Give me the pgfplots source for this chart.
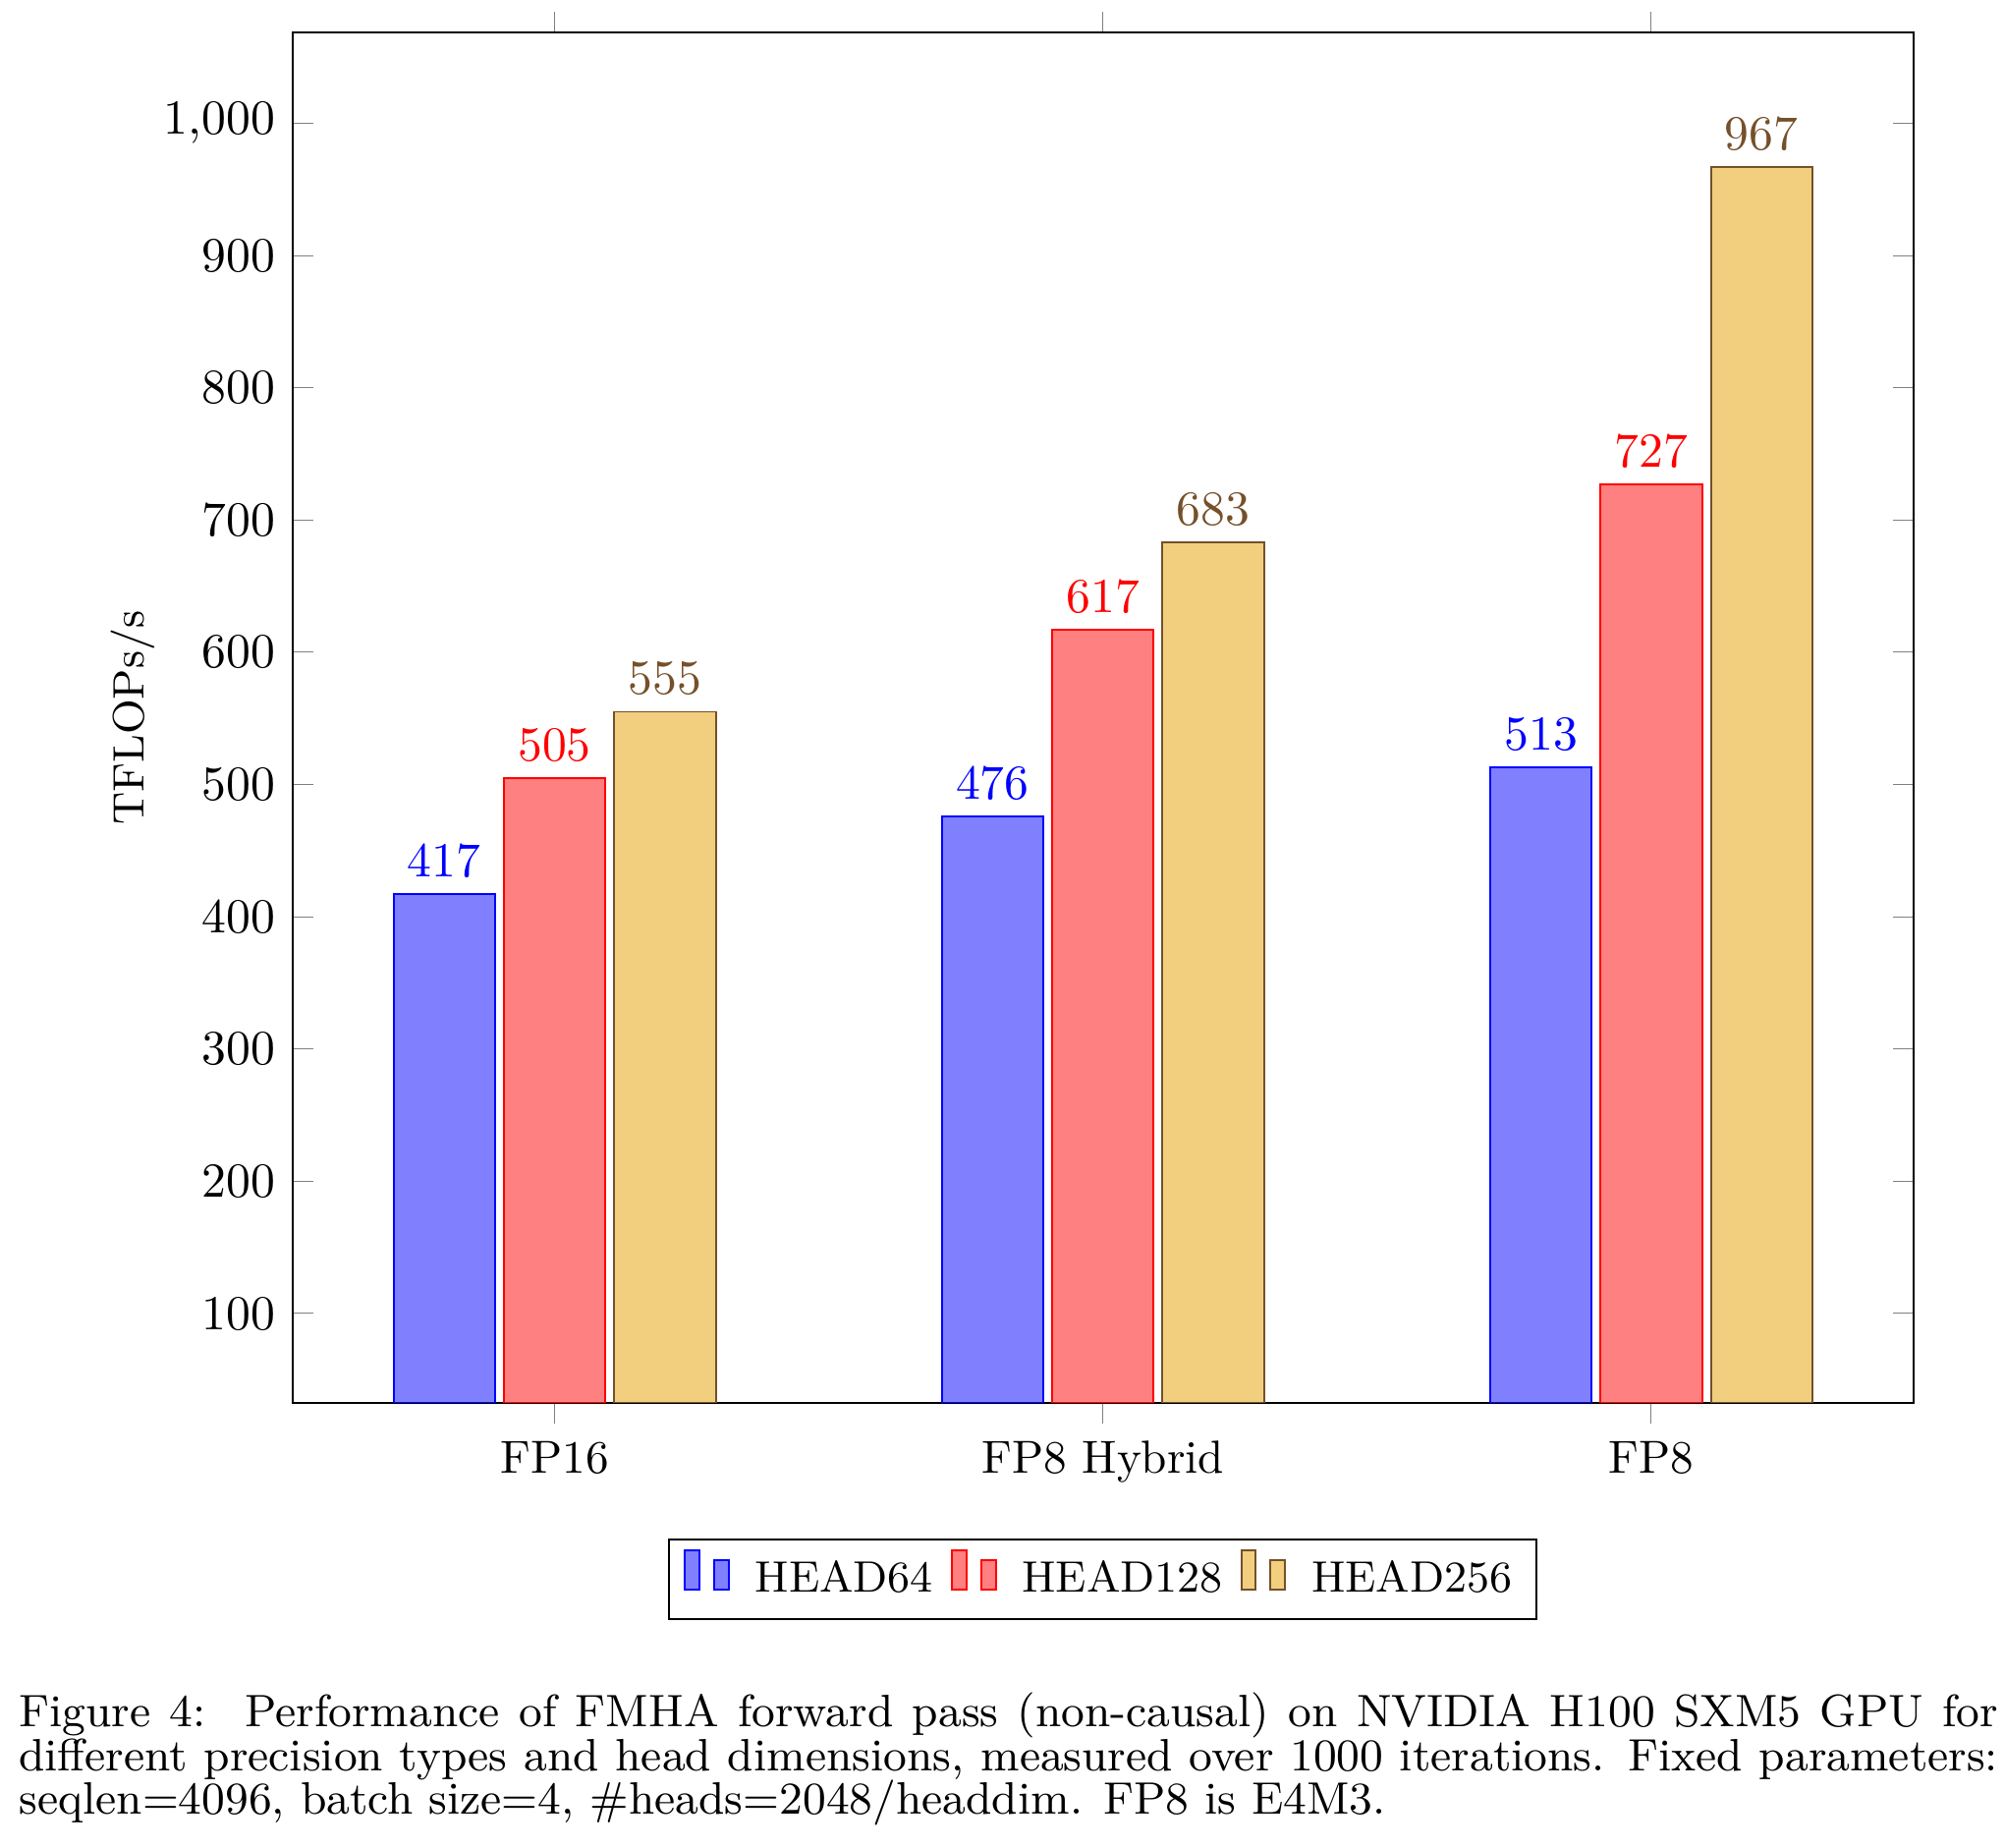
\documentclass[border=0pt]{standalone}
\usepackage{pgfplots}
\pgfplotsset{compat=1.18}
\definecolor{hfill}{RGB}{241,207,127}
\definecolor{hdraw}{RGB}{117,80,41}
\begin{document}
\begin{tikzpicture}
\useasboundingbox (-59.9pt,-90.95pt) rectangle (350.56pt,287.32pt);
\begin{axis}[
  at={(0,0)}, anchor=south west,
  scale only axis,
  width=332pt, height=280.6pt,
  ybar=1.8pt, bar width=20.8pt,
  xmin=-0.478, xmax=2.478,
  ymin=32.4, ymax=1068.4,
  xtick={0,1,2},
  xticklabels={FP16,FP8 Hybrid,FP8},
  xticklabel style={font=\fontsize{9.5}{11}\selectfont},
  xtick align=outside,
  ytick={100,200,...,1000},
  ylabel={TFLOPs/s},
  ylabel style={font=\fontsize{9}{11}\selectfont},
  ylabel shift=-5pt,
  nodes near coords,
  legend style={at={(0.5,-0.0993)}, anchor=north, legend columns=-1,
    font=\fontsize{9}{11}\selectfont,
    /tikz/every odd column/.append style={column sep=3.2pt},
    /tikz/every even column/.append style={column sep=1.6pt}},
]
\addplot[draw=blue, fill=blue!50, nodes near coords style={text=blue}] coordinates {(0,417) (1,476) (2,513)};
\addplot[draw=red, fill=red!50, nodes near coords style={text=red}] coordinates {(0,505) (1,617) (2,727)};
\addplot[draw=hdraw, fill=hfill, nodes near coords style={text=hdraw}] coordinates {(0,555) (1,683) (2,967)};
\legend{HEAD64,HEAD128,HEAD256}
\end{axis}
\node[anchor=base west, inner sep=0pt] at (-56.2pt,-66.3pt) {\parbox[t]{405.4pt}{\fontsize{9.3}{9}\selectfont
Figure 4:\hspace{0.25em} Performance of FMHA forward pass (non-causal) on NVIDIA H100 SXM5 GPU for\linebreak
different precision types and head dimensions, measured over 1000 iterations. Fixed parameters:\linebreak
seqlen=4096, batch size=4, \#heads=2048/headdim. FP8 is E4M3.}};
\end{tikzpicture}
\end{document}
